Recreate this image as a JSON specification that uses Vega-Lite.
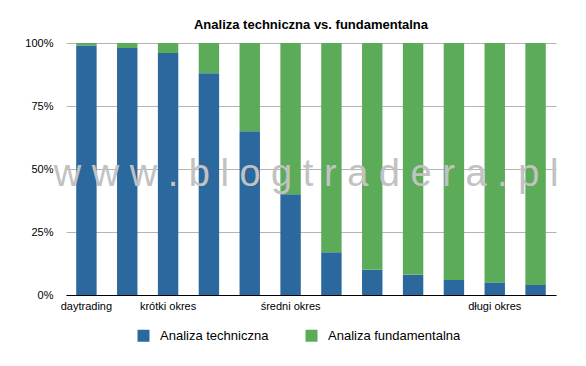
{
  "$schema": "https://vega.github.io/schema/vega-lite/v6.json",
  "width": 490,
  "height": 252,
  "autosize": {"type": "none"},
  "padding": {"left": 66, "top": 43, "right": 30, "bottom": 71},
  "background": "white",
  "config": {
    "view": {"stroke": null},
    "font": "Liberation Sans"
  },
  "title": {
    "text": "Analiza techniczna vs. fundamentalna",
    "fontSize": 13,
    "fontWeight": "bold",
    "color": "#000000",
    "font": "Liberation Sans",
    "offset": 5,
    "anchor": "middle"
  },
  "layer": [
    {
      "data": {
        "values": [
          {"i": 1, "series": "Analiza techniczna", "v": 99}, {"i": 1, "series": "Analiza fundamentalna", "v": 1},
          {"i": 2, "series": "Analiza techniczna", "v": 98}, {"i": 2, "series": "Analiza fundamentalna", "v": 2},
          {"i": 3, "series": "Analiza techniczna", "v": 96}, {"i": 3, "series": "Analiza fundamentalna", "v": 4},
          {"i": 4, "series": "Analiza techniczna", "v": 88}, {"i": 4, "series": "Analiza fundamentalna", "v": 12},
          {"i": 5, "series": "Analiza techniczna", "v": 65}, {"i": 5, "series": "Analiza fundamentalna", "v": 35},
          {"i": 6, "series": "Analiza techniczna", "v": 40}, {"i": 6, "series": "Analiza fundamentalna", "v": 60},
          {"i": 7, "series": "Analiza techniczna", "v": 17}, {"i": 7, "series": "Analiza fundamentalna", "v": 83},
          {"i": 8, "series": "Analiza techniczna", "v": 10}, {"i": 8, "series": "Analiza fundamentalna", "v": 90},
          {"i": 9, "series": "Analiza techniczna", "v": 8}, {"i": 9, "series": "Analiza fundamentalna", "v": 92},
          {"i": 10, "series": "Analiza techniczna", "v": 6}, {"i": 10, "series": "Analiza fundamentalna", "v": 94},
          {"i": 11, "series": "Analiza techniczna", "v": 5}, {"i": 11, "series": "Analiza fundamentalna", "v": 95},
          {"i": 12, "series": "Analiza techniczna", "v": 4}, {"i": 12, "series": "Analiza fundamentalna", "v": 96}
        ]
      },
      "mark": {"type": "bar"},
      "encoding": {
        "x": {
          "field": "i",
          "type": "ordinal",
          "scale": {"paddingInner": 0.5, "paddingOuter": 0.25},
          "axis": {
            "title": null,
            "labelAngle": 0,
            "labelExpr": "datum.value == 1 ? 'daytrading' : datum.value == 3 ? 'krótki okres' : datum.value == 6 ? 'średni okres' : datum.value == 11 ? 'długi okres' : ''",
            "labelFontSize": 11,
            "labelColor": "#000000",
            "labelPadding": 5,
            "ticks": false,
            "domainColor": "#000000",
            "domainWidth": 1,
            "grid": false
          }
        },
        "y": {
          "field": "v",
          "type": "quantitative",
          "stack": "normalize",
          "axis": {
            "title": null,
            "values": [0, 0.25, 0.5, 0.75, 1],
            "format": ".0%",
            "labelFontSize": 11,
            "labelColor": "#000000",
            "labelPadding": 13,
            "ticks": false,
            "domain": false,
            "gridColor": "#b4b4b4",
            "gridWidth": 1
          }
        },
        "color": {
          "field": "series",
          "type": "nominal",
          "sort": ["Analiza techniczna", "Analiza fundamentalna"],
          "scale": {"domain": ["Analiza techniczna", "Analiza fundamentalna"], "range": ["#2a689e", "#5bab59"]},
          "legend": {
            "title": null,
            "orient": "none",
            "legendX": 71,
            "legendY": 286,
            "direction": "horizontal",
            "symbolType": "square",
            "symbolSize": 144,
            "symbolStrokeWidth": 0,
            "labelFontSize": 13,
            "labelColor": "#000000",
            "labelOffset": 10,
            "columnPadding": 36
          }
        },
        "order": {"field": "series", "sort": "descending"}
      }
    },
    {
      "data": {"values": [{"t": "w w w . b l o g t r a d e r a . p l"}]},
      "mark": {
        "type": "text",
        "x": {"expr": "width/2"},
        "dx": -5,
        "align": "center",
        "baseline": "alphabetic",
        "fontSize": 38,
        "font": "Liberation Sans",
        "color": "#c2c2c2"
      },
      "encoding": {
        "text": {"field": "t"},
        "y": {"datum": 0.434}
      }
    }
  ]
}
